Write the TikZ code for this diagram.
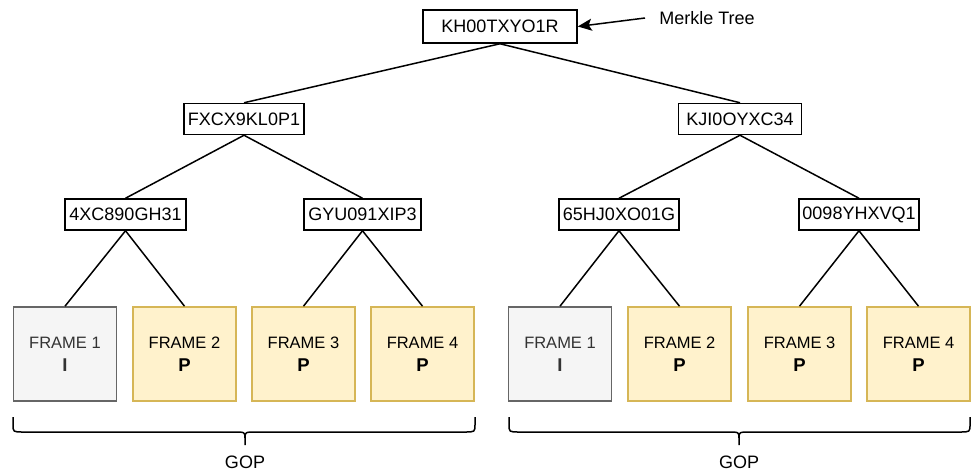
\documentclass[tikz,border=0pt]{standalone}
\usepackage{fontspec}
\setmainfont{Liberation Sans}
\usetikzlibrary{arrows.meta}
\definecolor{ifill}{HTML}{F5F5F5}
\definecolor{idraw}{HTML}{666666}
\definecolor{itext}{HTML}{333333}
\definecolor{pfill}{HTML}{FFF2CC}
\definecolor{pdraw}{HTML}{D6B656}
\newcommand{\ftype}[1]{{\fontsize{18.5}{23}\selectfont\bfseries #1}}
\begin{document}
\begin{tikzpicture}[x=1pt,y=-1pt,
  hashbox/.style={draw=black,line width=1.5pt,fill=white,inner sep=0pt,minimum height=31pt,font=\fontsize{18}{20}\selectfont},
  frameI/.style={draw=idraw,fill=ifill,line width=1.6pt,minimum width=103pt,minimum height=94pt,inner sep=0pt,align=center,text=itext,font=\fontsize{16.5}{23}\selectfont},
  frameP/.style={draw=pdraw,fill=pfill,line width=1.6pt,minimum width=103pt,minimum height=94pt,inner sep=0pt,align=center,text=black,font=\fontsize{16.5}{23}\selectfont},
  edge/.style={draw=black,line width=1.5pt},
  brace/.style={draw=black,line width=1.5pt},
  lbl/.style={font=\fontsize{18}{20}\selectfont,inner sep=0pt}]
\useasboundingbox (0,0) rectangle (973,474);
% tree nodes
\node[hashbox,minimum width=154pt,minimum height=33pt] (root) at (500,26.5) {KH00TXYO1R};
\node[hashbox,minimum width=120pt] (l1) at (244,119) {FXCX9KL0P1};
\node[hashbox,minimum width=123pt] (r1) at (740,119) {KJI0OYXC34};
\node[hashbox,minimum width=121pt] (ll) at (125.5,214.5) {4XC890GH31};
\node[hashbox,minimum width=117pt] (lr) at (362.5,214.5) {GYU091XIP3};
\node[hashbox,minimum width=120pt] (rl) at (619,214.5) {65HJ0XO01G};
\node[hashbox,minimum width=120pt] (rr) at (859,214.5) {0098YHXVQ1};
% frames
\node[frameI] (f1) at (65,354) {FRAME 1\\\ftype{I}};
\node[frameP] (f2) at (184.5,354) {FRAME 2\\\ftype{P}};
\node[frameP] (f3) at (303.5,354) {FRAME 3\\\ftype{P}};
\node[frameP] (f4) at (422.5,354) {FRAME 4\\\ftype{P}};
\node[frameI] (g1) at (560,354) {FRAME 1\\\ftype{I}};
\node[frameP] (g2) at (679.5,354) {FRAME 2\\\ftype{P}};
\node[frameP] (g3) at (799.5,354) {FRAME 3\\\ftype{P}};
\node[frameP] (g4) at (918.5,354) {FRAME 4\\\ftype{P}};
% edges
\draw[edge] (root.south) -- (l1.north);
\draw[edge] (root.south) -- (r1.north);
\draw[edge] (l1.south) -- (ll.north);
\draw[edge] (l1.south) -- (lr.north);
\draw[edge] (r1.south) -- (rl.north);
\draw[edge] (r1.south) -- (rr.north);
\draw[edge] (ll.south) -- (f1.north);
\draw[edge] (ll.south) -- (f2.north);
\draw[edge] (lr.south) -- (f3.north);
\draw[edge] (lr.south) -- (f4.north);
\draw[edge] (rl.south) -- (g1.north);
\draw[edge] (rl.south) -- (g2.north);
\draw[edge] (rr.south) -- (g3.north);
\draw[edge] (rr.south) -- (g4.north);
% merkle label
\node[lbl] (mt) at (707,18) {Merkle Tree};
\coordinate (mtstart) at (645,18);
\draw[edge,-{Stealth[length=14pt,width=12pt,inset=3pt]}] (mtstart) -- (root.east);
% braces
\draw[brace] (13,417) -- (13,424) .. controls (13,432) .. (23,432) -- (233,432) .. controls (245,432) .. (245,438) -- (245,445);
\draw[brace] (475,417) -- (475,424) .. controls (475,432) .. (465,432) -- (257,432) .. controls (245,432) .. (245,438);
\draw[brace] (509,417) -- (509,424) .. controls (509,432) .. (519,432) -- (727,432) .. controls (739,432) .. (739,438) -- (739,445);
\draw[brace] (970,417) -- (970,424) .. controls (970,432) .. (960,432) -- (751,432) .. controls (739,432) .. (739,438);
\node[lbl] (gop1) at (245,462) {GOP};
\node[lbl] (gop2) at (739,462) {GOP};
\end{tikzpicture}
\end{document}
